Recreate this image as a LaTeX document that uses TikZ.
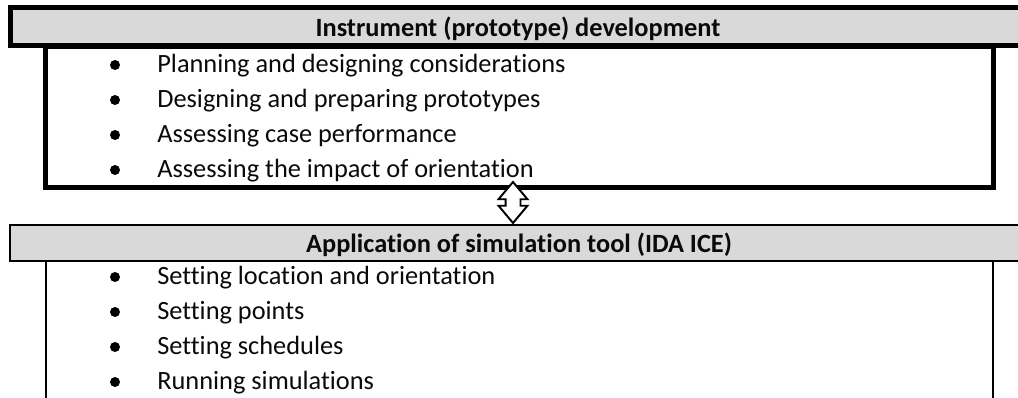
\documentclass[tikz,border=0pt]{standalone}
\usepackage{fontspec}
\setmainfont{Carlito}[Ligatures=NoCommon]
\usetikzlibrary{shapes.arrows}
\definecolor{bargray}{RGB}{217,217,217}
\definecolor{inkblack}{RGB}{10,10,10}
\tikzset{
  headbar/.style ={rectangle, draw=black, fill=bargray, text=inkblack, inner sep=0pt,
                   font=\fontsize{15}{18}\selectfont\bfseries, text height=0.46cm, text depth=0.08cm},
  bodybox/.style ={rectangle, draw=black, fill=white, inner sep=0pt},
  itemtext/.style={font=\fontsize{15}{18}\selectfont, text=inkblack, anchor=base west, inner sep=0pt},
  bulletdot/.style={circle, fill=black, minimum size=0.2cm, inner sep=0pt},
  swaparrow/.style={double arrow, draw=black, fill=white, line width=1.1pt, rotate=90,
                   minimum height=0.82cm, minimum width=0.54cm, inner sep=0.13cm,
                   double arrow head extend=0.14cm, double arrow tip angle=80}
}
\begin{document}
\begin{tikzpicture}[x=0.02cm, y=-0.02cm]
\useasboundingbox (0,0) rectangle (1018,398);
\clip (0,0) rectangle (1018,398);
% upper block
\node[bodybox, line width=2.85pt, minimum width=18.97cm, minimum height=2.83cm] (devbody) at (519.75,116.75) {};
\node[headbar, line width=2.85pt, minimum width=20.3cm, minimum height=0.77cm] (devhead) at (518,26.75)
  {Instrument (prototype) development};
\foreach \i/\y/\txt in {1/65/Planning and designing considerations,
                        2/100/Designing and preparing prototypes,
                        3/135/Assessing case performance,
                        4/170/Assessing the impact of orientation}{
  \node[bulletdot] (devdot\i) at (115,\y) {};
  \node[itemtext] (dev\i) at (157,\y+8) {\txt};
}
% lower block
\node[bodybox, line width=1.1pt, minimum width=18.94cm, minimum height=3.18cm] (simbody) at (519.5,340.5) {};
\node[headbar, line width=1.1pt, minimum width=20.36cm, minimum height=0.72cm] (simhead) at (519,243)
  {Application of simulation tool (IDA ICE)};
\foreach \i/\y/\txt in {1/277/Setting location and orientation,
                        2/312/Setting points,
                        3/347/Setting schedules,
                        4/382/Running simulations}{
  \node[bulletdot] (simdot\i) at (115,\y) {};
  \node[itemtext] (sim\i) at (157,\y+8) {\txt};
}
% link between the two blocks
\node[swaparrow] (link) at (513,202.5) {};
\end{tikzpicture}
\end{document}
